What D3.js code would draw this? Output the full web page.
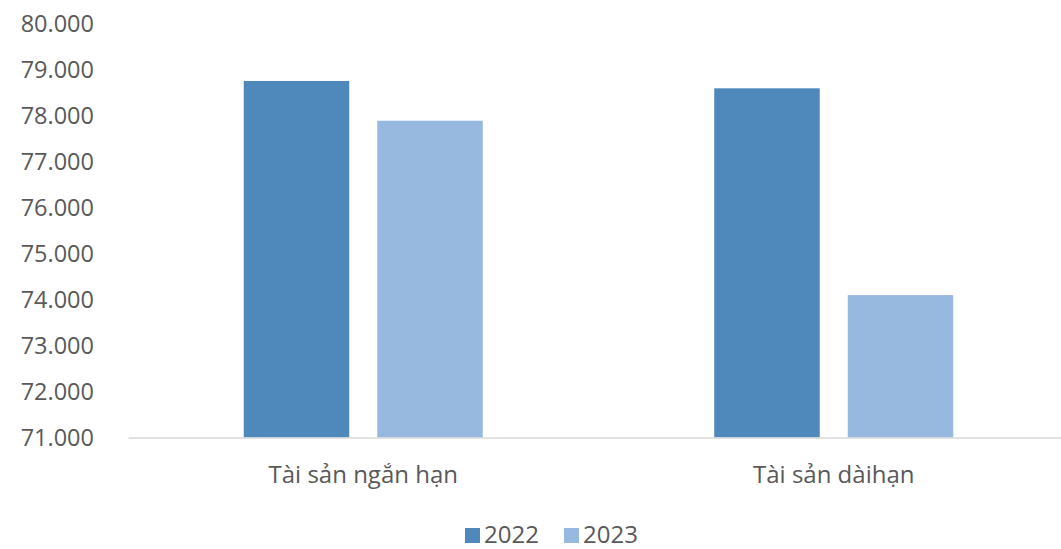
<!DOCTYPE html>
<html>
<head>
<meta charset="utf-8">
<script src="https://cdn.jsdelivr.net/npm/d3@7"></script>
<style>
  html, body { margin: 0; padding: 0; background: #fff; }
  svg text { font-family: "Open Sans", "Noto Sans", sans-serif; fill: #595959; }
</style>
</head>
<body>
<svg id="chart" width="1061" height="549"></svg>
<script>
const categories = ["Tài sản ngắn hạn", "Tài sản dàihạn"];
const seriesNames = ["2022", "2023"];
const values2022 = [78760, 78600];
const values2023 = [77895, 74100];
const yTicks = [71000, 72000, 73000, 74000, 75000, 76000, 77000, 78000, 79000, 80000];
const colors = ["#4F88BB", "#98B9DF"];

const data = categories.map((c, i) => ({ cat: c, vals: [values2022[i], values2023[i]] }));

const svg = d3.select("#chart");
const plotLeft = 128, plotRight = 1069, plotTop = 24, plotBottom = 437.5;

const y = d3.scaleLinear().domain([71000, 80000]).range([plotBottom, plotTop]);
const x0 = d3.scaleBand().domain(categories).range([plotLeft, plotRight]).padding(0);
const bw = x0.bandwidth();
const groupW = 239;
const x1 = d3.scaleBand().domain(seriesNames)
  .range([(bw - groupW) / 2, (bw + groupW) / 2]).paddingInner(0.21);

const fmt = d => d3.format(",")(d).replace(/,/g, ".");

// y axis labels
const yAxis = d3.axisLeft(y).tickValues(yTicks).tickFormat(fmt).tickSize(0).tickPadding(0);
const gy = svg.append("g").attr("transform", `translate(94,0)`).call(yAxis);
gy.select(".domain").remove();
gy.selectAll("text").style("font-size", "23.5px").attr("fill", "#595959")
  .style("font-family", "'Open Sans', sans-serif");

// bars
const groups = svg.append("g").selectAll("g").data(data).join("g")
  .attr("transform", d => `translate(${x0(d.cat)},0)`);
groups.selectAll("rect").data(d => d.vals.map((v, i) => ({ s: seriesNames[i], v, i })))
  .join("rect")
  .attr("x", d => x1(d.s))
  .attr("width", x1.bandwidth())
  .attr("y", d => y(d.v))
  .attr("height", d => plotBottom - y(d.v))
  .attr("fill", d => colors[d.i]);

// x axis
const xAxis = d3.axisBottom(x0).tickSize(0).tickPadding(0);
const gx = svg.append("g").attr("transform", `translate(0,${plotBottom})`).call(xAxis);
gx.select(".domain").attr("stroke", "#d9d9d9").attr("stroke-width", 1.5);
gx.selectAll("text").attr("y", 0).attr("dy", 0)
  .attr("transform", "translate(0,45)")
  .style("font-size", "24px").attr("fill", "#595959")
  .style("font-family", "'Open Sans', sans-serif");

// legend
const legend = svg.append("g").attr("transform", "translate(465,528)");
const items = [{ name: seriesNames[0], x: 0 }, { name: seriesNames[1], x: 99 }];
items.forEach((it, i) => {
  legend.append("rect").attr("x", it.x).attr("y", 0).attr("width", 15).attr("height", 15).attr("fill", colors[i]);
  legend.append("text").attr("x", it.x + 19).attr("y", 7).attr("dy", "0.35em")
    .style("font-size", "24px").text(it.name);
});
</script>
</body>
</html>
